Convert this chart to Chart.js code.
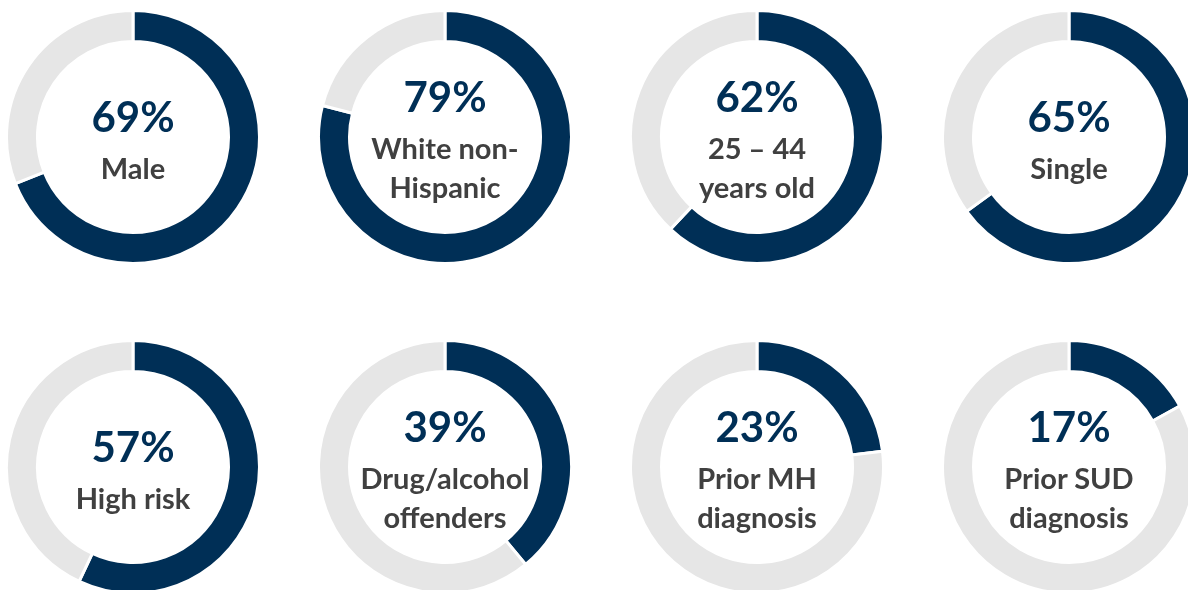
<!DOCTYPE html>
<html>
<head>
<meta charset="utf-8">
<script src="https://cdn.jsdelivr.net/npm/chart.js@4.4.1/dist/chart.umd.min.js"></script>
<style>
    html, body {
        margin: 0;
        padding: 0;
        width: 1188px;
        height: 590px;
        overflow: hidden;
        background: #ffffff;
        font-family: Lato, 'Open Sans', sans-serif;
    }
    .cell {
        position: absolute;
        width: 256px;
        height: 256px;
    }
    .cell canvas {
        position: absolute;
        left: 0;
        top: 0;
    }
    .centro {
        position: absolute;
        left: 0;
        top: 0;
        width: 256px;
        height: 256px;
        display: flex;
        flex-direction: column;
        align-items: center;
        justify-content: center;
        text-align: center;
        font-weight: 700;
        pointer-events: none;
    }
    .perc {
        color: #002F56;
        font-size: 42px;
        line-height: 56px;
        margin-bottom: 4px;
    }
    .rotulo {
        color: #404040;
        font-size: 29px;
        line-height: 39px;
    }
</style>
</head>
<body>
<div id="grade"></div>
<script>
// Percentuais de cada indicador (fatia escura)
const percentuais = [69, 79, 62, 65, 57, 39, 23, 17];

// Rótulos, uma linha por item
const rotulos = [
    ['Male'],
    ['White non-', 'Hispanic'],
    ['25 \u2013 44', 'years old'],
    ['Single'],
    ['High risk'],
    ['Drug/alcohol', 'offenders'],
    ['Prior MH', 'diagnosis'],
    ['Prior SUD', 'diagnosis']
];

const corPrincipal = '#002F56';
const corResto = '#E6E6E6';

// Centros das roscas na página
const centrosX = [133, 445, 757, 1069];
const centrosY = [137, 467];
const tamanho = 256;

const grade = document.getElementById('grade');

percentuais.forEach((valor, i) => {
    const cx = centrosX[i % 4];
    const cy = centrosY[Math.floor(i / 4)];

    const cell = document.createElement('div');
    cell.className = 'cell';
    cell.style.left = (cx - tamanho / 2) + 'px';
    cell.style.top = (cy - tamanho / 2) + 'px';

    const canvas = document.createElement('canvas');
    canvas.width = tamanho;
    canvas.height = tamanho;
    cell.appendChild(canvas);

    // Texto central (percentual + rótulo)
    const centro = document.createElement('div');
    centro.className = 'centro';
    const perc = document.createElement('div');
    perc.className = 'perc';
    perc.textContent = valor + '%';
    centro.appendChild(perc);
    rotulos[i].forEach(linha => {
        const el = document.createElement('div');
        el.className = 'rotulo';
        el.textContent = linha;
        centro.appendChild(el);
    });
    cell.appendChild(centro);
    grade.appendChild(cell);

    new Chart(canvas.getContext('2d'), {
        type: 'doughnut',
        data: {
            labels: [rotulos[i].join(' '), 'Outros'],
            datasets: [{
                data: [valor, 100 - valor],
                backgroundColor: [corPrincipal, corResto],
                borderColor: '#ffffff',
                borderWidth: 3,
                hoverOffset: 0
            }]
        },
        options: {
            responsive: false,
            animation: false,
            cutout: '75.5%',
            layout: { padding: 0 },
            plugins: {
                legend: { display: false },
                tooltip: { enabled: false }
            }
        }
    });
});
</script>
</body>
</html>
